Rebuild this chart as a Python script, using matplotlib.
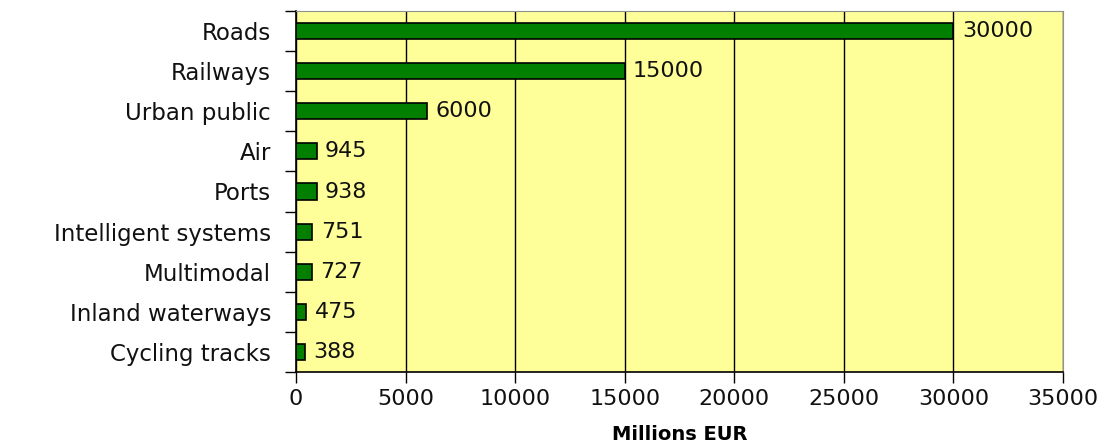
import numpy as np
import matplotlib.pyplot as plt

plt.rcParams['font.family'] = ['DejaVu Sans']

# data
categories = ['Roads', 'Railways', 'Urban public', 'Air', 'Ports',
              'Intelligent systems', 'Multimodal', 'Inland waterways', 'Cycling tracks']
values = [30000, 15000, 6000, 945, 938, 751, 727, 475, 388]
xticks = [0, 5000, 10000, 15000, 20000, 25000, 30000, 35000]

fig = plt.figure(figsize=(11.07, 4.44), dpi=100)
ax = fig.add_axes([296 / 1107, 1 - 372 / 444, (1063 - 296) / 1107, (372 - 11) / 444])
ax.set_facecolor('#FFFF99')

y = np.arange(len(categories))
ax.barh(y, values, height=0.4, color='#007F00', edgecolor='black', linewidth=1.2, zorder=3)
for yi, v in zip(y, values):
    ax.annotate(str(v), (v, yi), xytext=(6, 0), textcoords='offset points',
                va='center', ha='left', fontsize=16, color='#111111', zorder=4)

ax.set_xlim(0, 35000)
ax.set_ylim(len(categories) - 0.5, -0.5)
ax.set_xticks(xticks)
ax.set_xticklabels([str(t) for t in xticks], fontsize=16, color='#111111')
ax.xaxis.grid(True, color='black', linewidth=1.0, zorder=1)
ax.set_axisbelow(True)

# category ticks sit between the bars
ax.set_yticks(np.arange(len(categories) + 1) - 0.5)
ax.set_yticklabels([])
ax.set_yticks(y, minor=True)
ax.set_yticklabels(categories, minor=True, fontsize=16.5, color='#111111')
ax.tick_params(axis='y', which='minor', length=0, pad=18)
ax.tick_params(axis='y', which='major', length=8, width=1)
ax.tick_params(axis='x', length=8, width=1, pad=4)

for s in ['top', 'right']:
    ax.spines[s].set_color('#909090')
for s in ['left', 'bottom']:
    ax.spines[s].set_color('black')
    ax.spines[s].set_linewidth(1.2)

ax.set_xlabel('Millions EUR', fontsize=14, fontweight='bold', labelpad=12)

fig.savefig('out.png', dpi=100)
